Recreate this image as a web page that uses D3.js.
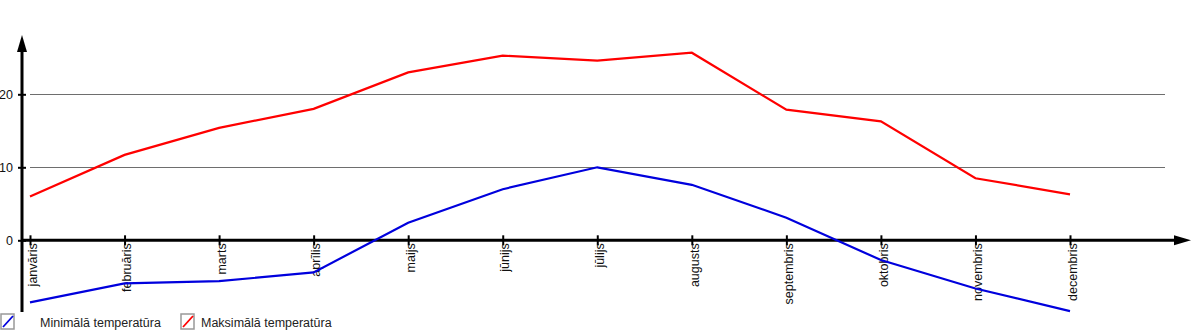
<!DOCTYPE html>
<html><head><meta charset="utf-8">
<script src="https://cdn.jsdelivr.net/npm/d3@7"></script>
<style>
html,body{margin:0;padding:0;background:#fff;}
svg{display:block;font-family:"Liberation Sans",Arial,sans-serif;}
</style></head>
<body>
<svg id="chart" width="1200" height="330"></svg>
<script>
const months = ["janvāris","februāris","marts","aprīlis","maijs","jūnijs","jūlijs","augusts","septembris","oktobris","novembris","decembris"];
const minTemp = [-8.5,-5.9,-5.6,-4.4,2.4,7.0,10.0,7.6,3.1,-2.7,-6.6,-9.7];
const maxTemp = [6.0,11.7,15.4,18.0,23.0,25.3,24.6,25.7,17.9,16.3,8.5,6.3];
const yTicks = [0,10,20];
const seriesNames = ["Minimālā temperatūra","Maksimālā temperatūra"];

const svg = d3.select("#chart");
const x = d3.scalePoint().domain(months).range([30,1070]);
const y = d3.scaleLinear().domain([0,20]).range([240.3,94.3]);
const FS = 12.5;

// gridlines
svg.append("g").selectAll("line").data(yTicks.filter(d=>d!==0)).join("line")
  .attr("x1",30).attr("x2",1165)
  .attr("y1",d=>Math.round(y(d))+0.5).attr("y2",d=>Math.round(y(d))+0.5)
  .attr("stroke","#6e6e6e").attr("stroke-width",1);

// y axis
const yAxis = svg.append("g").attr("transform","translate(22,0)")
  .call(d3.axisLeft(y).tickValues(yTicks).tickSize(4).tickPadding(5));
yAxis.select(".domain").remove();
yAxis.selectAll(".tick line").attr("x1",-4).attr("x2",4).attr("stroke","#000").attr("stroke-width",2);
yAxis.selectAll(".tick text").attr("font-size",FS).attr("fill","#111").style("font-family","Liberation Sans, Arial, sans-serif");

svg.append("line").attr("x1",22).attr("x2",22).attr("y1",48).attr("y2",312)
  .attr("stroke","#000").attr("stroke-width",3);
svg.append("path").attr("d","M22,35 L17,52 L27,52 Z").attr("fill","#000");

// x axis
const xAxis = svg.append("g").attr("transform",`translate(0,${y(0)})`)
  .call(d3.axisBottom(x).tickSize(5).tickPadding(3));
xAxis.select(".domain").remove();
xAxis.selectAll(".tick line").attr("y1",-5).attr("y2",5).attr("stroke","#000").attr("stroke-width",2);
xAxis.selectAll(".tick text")
  .attr("transform","rotate(-90)")
  .attr("text-anchor","end")
  .attr("x",-3).attr("y",0).attr("dy","0.5em")
  .attr("font-size",FS).attr("fill","#111")
  .style("font-family","Liberation Sans, Arial, sans-serif");

svg.append("line").attr("x1",22).attr("x2",1178).attr("y1",y(0)).attr("y2",y(0))
  .attr("stroke","#000").attr("stroke-width",3);
svg.append("path").attr("d",`M1191,${y(0)} L1174,${y(0)-5} L1174,${y(0)+5} Z`).attr("fill","#000");

// lines
const line = d3.line().x((d,i)=>x(months[i])).y(d=>y(d));
svg.append("path").datum(maxTemp).attr("d",line).attr("fill","none")
  .attr("stroke","#ff0000").attr("stroke-width",2.2);
svg.append("path").datum(minTemp).attr("d",line).attr("fill","none")
  .attr("stroke","#0000dd").attr("stroke-width",2.2);

// legend
const legend = [{name:seriesNames[0],color:"#0000dd",bx:1,tx:40},{name:seriesNames[1],color:"#ff0000",bx:181,tx:201}];
const lg = svg.append("g").selectAll("g").data(legend).join("g");
lg.append("rect").attr("x",d=>d.bx).attr("y",314).attr("width",13).attr("height",15)
  .attr("fill","#fff").attr("stroke","#999").attr("stroke-width",1.5);
lg.append("line").attr("x1",d=>d.bx+2).attr("y1",327).attr("x2",d=>d.bx+12).attr("y2",316)
  .attr("stroke",d=>d.color).attr("stroke-width",1.8);
lg.append("text").attr("x",d=>d.tx).attr("y",327).attr("font-size",FS).attr("fill","#222")
  .text(d=>d.name);
</script>
</body></html>
